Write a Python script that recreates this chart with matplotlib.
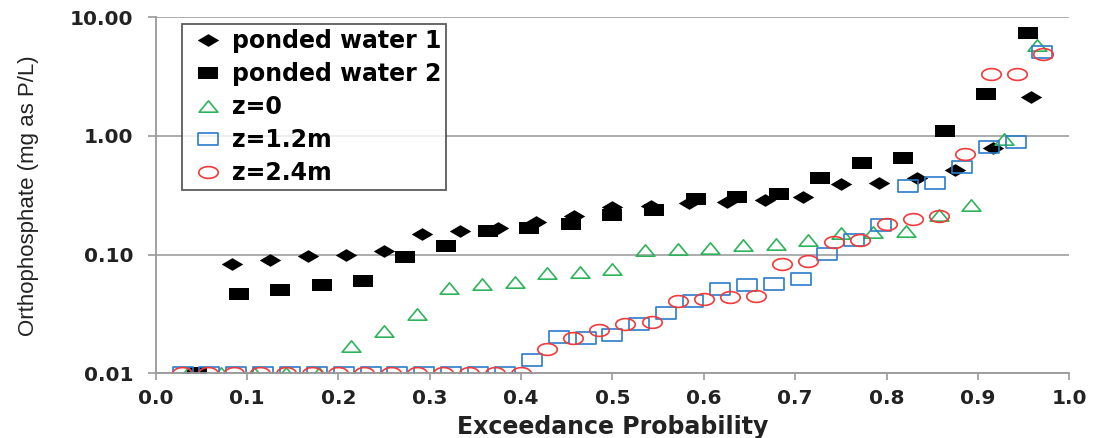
import numpy as np
import matplotlib
matplotlib.use("Agg")
import matplotlib.pyplot as plt
from matplotlib.path import Path
from matplotlib.ticker import FixedLocator, FixedFormatter

# orthophosphate (mg as P/L), sorted so exceedance rank 1 = smallest value plotted at left
pw1 = [0.01, 0.083, 0.090, 0.098, 0.100, 0.107, 0.150, 0.158, 0.168, 0.188,
       0.21, 0.25, 0.255, 0.27, 0.277, 0.29, 0.306, 0.396, 0.405, 0.445,
       0.52, 0.79, 2.13]
pw2 = [0.01, 0.047, 0.050, 0.056, 0.060, 0.095, 0.119, 0.157, 0.169, 0.182,
       0.214, 0.236, 0.296, 0.306, 0.327, 0.446, 0.596, 0.656, 1.11, 2.24, 7.4]
z0 = [0.01, 0.01, 0.01, 0.01, 0.01, 0.017, 0.0227, 0.0318, 0.052, 0.057,
      0.0588, 0.070, 0.072, 0.075, 0.109, 0.112, 0.114, 0.121, 0.124, 0.132,
      0.152, 0.155, 0.158, 0.214, 0.26, 0.95, 5.8]
z12 = [0.01] * 13 + [0.0129, 0.0202, 0.020, 0.0212, 0.0262, 0.0322, 0.041,
       0.0517, 0.056, 0.057, 0.0628, 0.102, 0.132, 0.179, 0.38, 0.40, 0.547,
       0.806, 0.889, 5.1]
z24 = [0.01] * 14 + [0.0161, 0.020, 0.023, 0.0259, 0.027, 0.041, 0.0426,
       0.044, 0.045, 0.084, 0.088, 0.129, 0.134, 0.18, 0.201, 0.211, 0.70,
       3.30, 3.30, 4.87]

labels = ["ponded water 1", "ponded water 2", "z=0", "z=1.2m", "z=2.4m"]
x_ticks = [0.0, 0.1, 0.2, 0.3, 0.4, 0.5, 0.6, 0.7, 0.8, 0.9, 1.0]
y_ticks = [0.01, 0.1, 1.0, 10.0]


def exceedance(vals):
    # Weibull plotting position, rank / (n + 1)
    n = len(vals)
    return np.arange(1, n + 1) / (n + 1)


def closed(verts):
    verts = list(verts) + [verts[0]]
    return Path(verts, closed=True)


# the original picture is stretched sideways, so markers are wider than tall
diamond = closed([(0, 1), (1.7, 0), (0, -1), (-1.7, 0)])
box = closed([(-1.55, -1), (1.55, -1), (1.55, 1), (-1.55, 1)])
tri = closed([(-1.65, -1), (1.65, -1), (0, 1)])
t = np.linspace(0, 2 * np.pi, 61)[:-1]
ellipse = closed(list(zip(1.65 * np.cos(t), np.sin(t))))

green = "#2DB35A"
blue = "#2B7CC9"
red = "#F23A3A"

fig = plt.figure(figsize=(10.96, 4.38), dpi=100)
ax = fig.add_axes([0.142, 0.1477, 0.8336, 0.8128])

ax.plot(exceedance(pw1), pw1, ls="none", marker=diamond, ms=15.5,
        color="black", mew=0, label=labels[0])
ax.plot(exceedance(pw2), pw2, ls="none", marker=box, ms=14.5,
        color="black", mew=0, label=labels[1])
ax.plot(exceedance(z0), z0, ls="none", marker=tri, ms=13.5,
        mfc="none", mec=green, mew=1.2, label=labels[2])
ax.plot(exceedance(z12), z12, ls="none", marker=box, ms=14.5,
        mfc="none", mec=blue, mew=1.2, label=labels[3])
ax.plot(exceedance(z24), z24, ls="none", marker=ellipse, ms=14,
        mfc="none", mec=red, mew=1.2, label=labels[4])

ax.set_yscale("log")
ax.set_xlim(0, 1)
ax.set_ylim(0.01, 10)

ax.xaxis.set_major_locator(FixedLocator(x_ticks))
ax.xaxis.set_major_formatter(FixedFormatter([f"{v:.1f}" for v in x_ticks]))
ax.yaxis.set_major_locator(FixedLocator(y_ticks))
ax.yaxis.set_major_formatter(FixedFormatter([f"{v:.2f}" for v in y_ticks]))
ax.yaxis.set_minor_locator(FixedLocator([]))

for lab in ax.get_xticklabels() + ax.get_yticklabels():
    lab.set_fontweight("bold")
    lab.set_fontsize(14.5)
    lab.set_color("#222222")

ax.tick_params(axis="y", length=6, width=1.2, color="#999999", pad=10)
ax.tick_params(axis="x", length=5, width=1.2, color="#999999", pad=6)

ax.grid(axis="y", color="#A6A6A6", lw=1.3)
ax.set_axisbelow(True)
for side in ["top", "right"]:
    ax.spines[side].set_visible(False)
for side in ["left", "bottom"]:
    ax.spines[side].set_color("#999999")
    ax.spines[side].set_linewidth(1.3)

ax.set_xlabel("Exceedance Probability", fontsize=17, fontweight="bold",
              color="#222222", labelpad=5)
ax.set_ylabel("Orthophosphate (mg as P/L)", fontsize=16,
              family=["Liberation Sans", "DejaVu Sans"],
              color="#222222", labelpad=22)

leg = ax.legend(loc="upper left", bbox_to_anchor=(0.0285, 0.981),
                borderaxespad=0, frameon=True, fancybox=False,
                handlelength=1.8, handletextpad=0.1, labelspacing=0.38,
                borderpad=0.22, prop={"weight": "bold", "size": 17})
leg.get_frame().set_edgecolor("#333333")
leg.get_frame().set_linewidth(1.3)

fig.savefig("out.png", dpi=100)
